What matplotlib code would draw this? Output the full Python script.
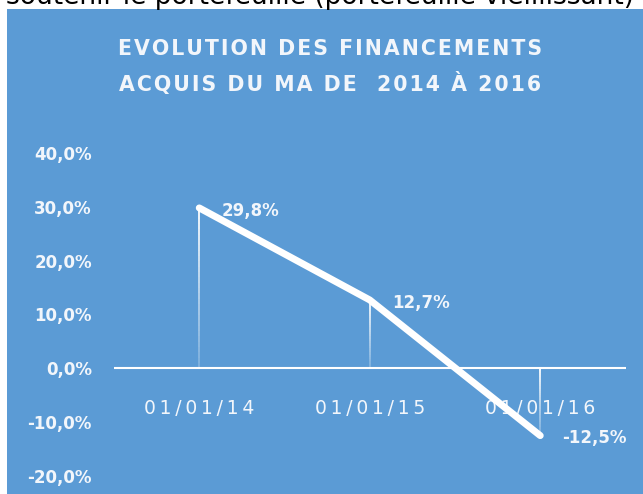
import numpy as np
import matplotlib.pyplot as plt
from matplotlib.patches import Rectangle
from matplotlib.collections import LineCollection

# données
dates = ["01/01/14", "01/01/15", "01/01/16"]
evolution = [29.8, 12.7, -12.5]
labels = ["29,8%", "12,7%", "-12,5%"]
yticks = [40, 30, 20, 10, 0, -10, -20]
ytick_labels = ["40,0%", "30,0%", "20,0%", "10,0%", "0,0%", "-10,0%", "-20,0%"]
title = "EVOLUTION DES FINANCEMENTS\nACQUIS DU MA DE  2014 À 2016"
top_text = "soutenir le portefeuille (portefeuille vieillissant)"

bg = "#5B9BD5"
txt = "#F2F6FB"

def spaced(s, sep="\u200a"):
    return "\n".join(sep.join(line) for line in s.split("\n"))

fig = plt.figure(figsize=(6.43, 4.94), dpi=100)
fig.patch.set_facecolor("white")
fig.patches.append(Rectangle((7 / 643, 0), 1, 1 - 9 / 494, transform=fig.transFigure,
                             facecolor=bg, edgecolor="none", zorder=-1))

fig.text(0.497, 1 - 4 / 494, top_text, ha="center", va="baseline", fontsize=19, color="black")
fig.text(330 / 643, 1 - 67 / 494, spaced(title), ha="center", va="center", fontsize=14.8,
         fontweight="bold", color=txt, linespacing=1.65)

ax = fig.add_axes([114 / 643, 1 - 476 / 494, 511.5 / 643, 323 / 494])
ax.set_facecolor("none")
x = np.arange(len(dates))
ax.set_xlim(-0.5, 2.5)
ax.set_ylim(-20, 40)
for s in ax.spines.values():
    s.set_visible(False)
ax.set_xticks([])
ax.set_yticks(yticks)
ax.set_yticklabels(ytick_labels)
ax.tick_params(axis="y", length=0, pad=16, labelsize=12, labelcolor=txt)
for t in ax.get_yticklabels():
    t.set_fontweight("bold")

ax.axhline(0, color="white", lw=1.5, zorder=1)

# lignes de projection avec dégradé
segs = []
alphas = []
n = 30
for xi, v in zip(x, evolution):
    top = max(v, 0)
    bot = min(v, 0)
    ys = np.linspace(top, bot, n + 1)
    for k in range(n):
        segs.append([(xi, ys[k]), (xi, ys[k + 1])])
        alphas.append(1 - 0.8 * k / n)
cols = [(1, 1, 1, a) for a in alphas]
ax.add_collection(LineCollection(segs, colors=cols, linewidths=1.3, zorder=2))

for xi, d in zip(x, dates):
    ax.annotate(spaced(d, "\u2009"), (xi, 0), xytext=(0, -29), textcoords="offset points",
                ha="center", va="center", fontsize=13.5, color=txt, zorder=2)

ax.plot(x, evolution, color="white", lw=5, solid_capstyle="round",
        solid_joinstyle="round", zorder=4)

for xi, v, lab in zip(x, evolution, labels):
    ax.annotate(lab, (xi, v), xytext=(16, -2), textcoords="offset points",
                ha="left", va="center", fontsize=12, fontweight="bold", color=txt, zorder=5)

fig.savefig("out.png", dpi=100, facecolor=fig.get_facecolor())
